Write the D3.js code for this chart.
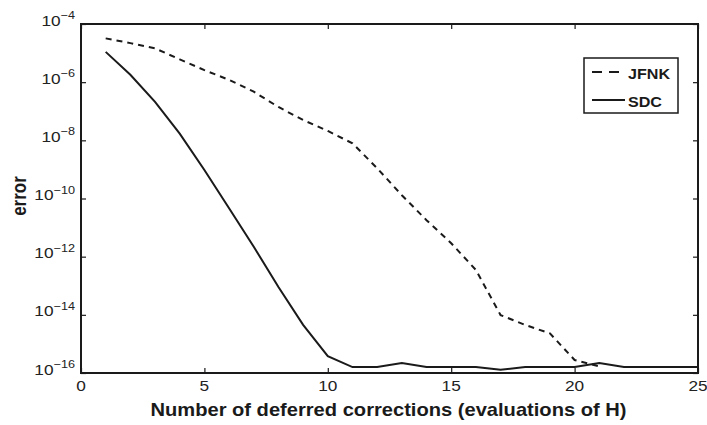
<!DOCTYPE html>
<html>
<head>
<meta charset="utf-8">
<script src="https://cdn.jsdelivr.net/npm/d3@7"></script>
<style>
  html, body { margin: 0; padding: 0; background: #fff; }
  svg { display: block; font-family: "Liberation Sans", Arial, Helvetica, sans-serif; }
</style>
</head>
<body>
<svg id="chart" width="707" height="425"></svg>
<script>
// Convergence of the error against the number of deferred corrections
const iterations = d3.range(1, 26);
const jfnkIterations = d3.range(1, 22);
const jfnkError = [3.2e-5, 2.2e-5, 1.45e-5, 6.1e-6, 2.6e-6, 1.2e-6, 4.7e-7, 1.4e-7, 5e-8, 2.1e-8,
                   7.9e-9, 1.1e-9, 1.3e-10, 1.8e-11, 2.9e-12, 3.5e-13, 9.8e-15, 4.5e-15, 2.3e-15, 2.8e-16, 1.7e-16];
const sdcError = [1.1e-5, 1.8e-6, 2.1e-7, 1.7e-8, 9.6e-10, 4.6e-11, 2.2e-12, 9e-14, 4.5e-15, 3.8e-16,
                  1.6e-16, 1.6e-16, 2.2e-16, 1.6e-16, 1.6e-16, 1.6e-16, 1.3e-16, 1.6e-16, 1.6e-16, 1.6e-16,
                  2.2e-16, 1.6e-16, 1.6e-16, 1.6e-16, 1.6e-16];
const xTicks = [0, 5, 10, 15, 20, 25];
const yExponents = [-4, -6, -8, -10, -12, -14, -16];
const seriesNames = ["JFNK", "SDC"];
const xTitle = "Number of deferred corrections (evaluations of H)";
const yTitle = "error";

const margin = { left: 81, right: 9, top: 24, bottom: 52 };
const W = 707, H = 425;
const svg = d3.select("#chart");

const x = d3.scaleLinear().domain([0, 25]).range([margin.left, W - margin.right]);
const y = d3.scaleLog().domain([1e-16, 1e-4]).range([H - margin.bottom, margin.top]);

const ink = "#1a1a1a";
const tickLen = 5;
const stretch = 1.15;   // lettering is a little wide in this figure

// text anchored at (px, py) and widened horizontally
function wideText(parent, px, py, anchor) {
  return parent.append("g").attr("transform", `translate(${px},${py}) scale(${stretch},1)`)
    .append("text").attr("text-anchor", anchor);
}

// data lines (drawn first so the frame sits on top)
const line = d3.line().x(d => x(d[0])).y(d => y(d[1]));
svg.append("path")
  .datum(jfnkIterations.map((k, i) => [k, jfnkError[i]]))
  .attr("d", line).attr("fill", "none").attr("stroke", ink)
  .attr("stroke-width", 2).attr("stroke-dasharray", "6,5");
svg.append("path")
  .datum(iterations.map((k, i) => [k, sdcError[i]]))
  .attr("d", line).attr("fill", "none").attr("stroke", ink)
  .attr("stroke-width", 2);

// axes: inward ticks on all four sides
const yTickVals = yExponents.map(e => Math.pow(10, e));
const gx = svg.append("g").attr("transform", `translate(0,${H - margin.bottom})`)
  .call(d3.axisBottom(x).tickValues(xTicks).tickSize(-tickLen).tickFormat(""));
const gxTop = svg.append("g").attr("transform", `translate(0,${margin.top})`)
  .call(d3.axisTop(x).tickValues(xTicks).tickSize(-tickLen).tickFormat(""));
const gy = svg.append("g").attr("transform", `translate(${margin.left},0)`)
  .call(d3.axisLeft(y).tickValues(yTickVals).tickSize(-tickLen).tickFormat(""));
const gyRight = svg.append("g").attr("transform", `translate(${W - margin.right},0)`)
  .call(d3.axisRight(y).tickValues(yTickVals).tickSize(-tickLen).tickFormat(""));

[gx, gxTop, gy, gyRight].forEach(g => {
  g.select(".domain").remove();
  g.selectAll(".tick line").attr("stroke", ink).attr("stroke-width", 1.2);
});

// frame
svg.append("rect")
  .attr("x", margin.left).attr("y", margin.top)
  .attr("width", W - margin.right - margin.left)
  .attr("height", H - margin.bottom - margin.top)
  .attr("fill", "none").attr("stroke", ink).attr("stroke-width", 2);

// x tick labels
xTicks.forEach(v => {
  wideText(svg, x(v), H - margin.bottom + 18, "middle")
    .attr("font-size", 15).attr("fill", "#222").text(d3.format("d")(v));
});

// power-of-ten tick labels
yExponents.forEach(e => {
  const t = wideText(svg, margin.left - 6, y(Math.pow(10, e)) + 1.5, "end")
    .attr("fill", "#222").attr("font-size", 15);
  t.append("tspan").text("10");
  t.append("tspan").attr("font-size", 11).attr("dy", -6.5).text("\u2212" + Math.abs(e));
});

// axis titles
wideText(svg, (margin.left + W - margin.right) / 2 - 1, 416, "middle")
  .attr("font-size", 17.5).attr("font-weight", "bold").attr("fill", ink).text(xTitle);
svg.append("g").attr("transform", `translate(26,196) scale(${stretch},1) rotate(-90)`)
  .append("text").attr("text-anchor", "middle").attr("font-size", 17).attr("font-weight", "bold")
  .attr("fill", ink).text(yTitle);

// legend
const lg = svg.append("g").attr("transform", "translate(584,58)");
lg.append("rect").attr("width", 94).attr("height", 55)
  .attr("fill", "#fff").attr("stroke", ink).attr("stroke-width", 1.5);
seriesNames.forEach((name, i) => {
  const cy = 14 + i * 28;
  lg.append("line").attr("x1", 8).attr("x2", 41).attr("y1", cy).attr("y2", cy)
    .attr("stroke", ink).attr("stroke-width", 2)
    .attr("stroke-dasharray", i === 0 ? "10,7" : null);
  wideText(lg, 44, cy + 7, "start")
    .attr("font-size", 14).attr("font-weight", "bold").attr("fill", ink).text(name);
});
</script>
</body>
</html>
